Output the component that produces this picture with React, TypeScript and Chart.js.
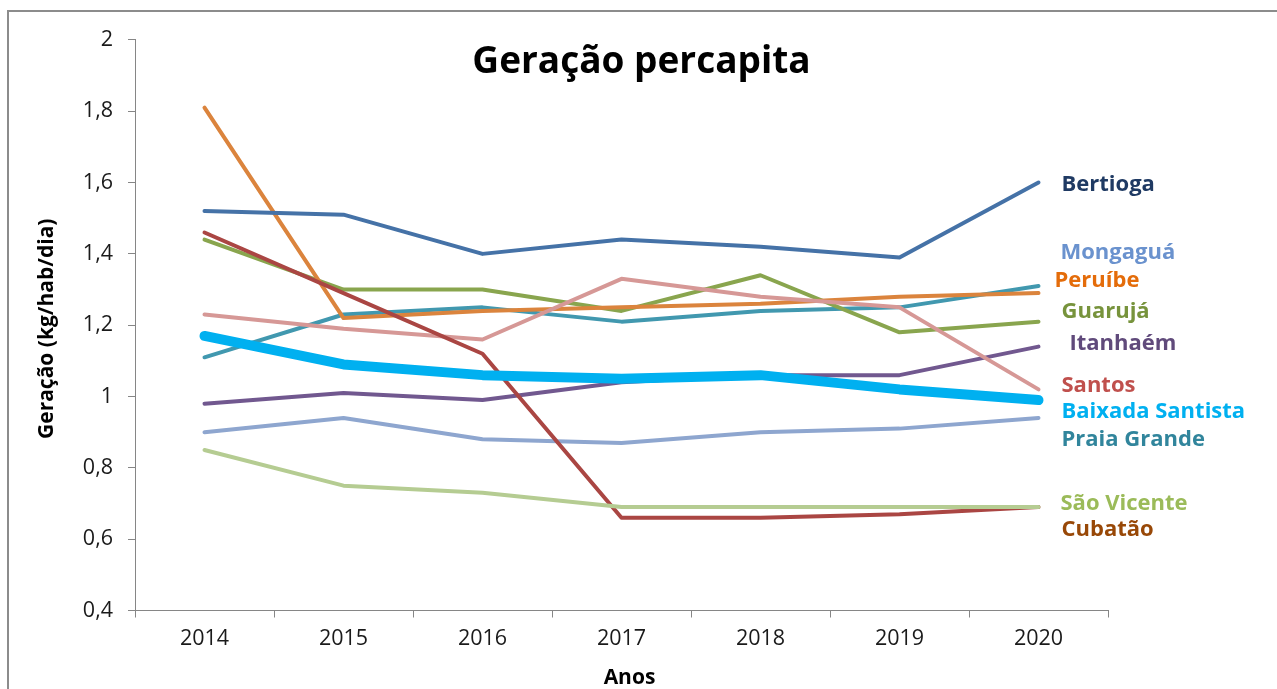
import React, { useEffect, useRef } from 'react';
import { Chart, registerables } from 'chart.js';

Chart.register(...registerables);

// ---- data ----
const years = ['2014', '2015', '2016', '2017', '2018', '2019', '2020'];
const baixadaSantista = [1.17, 1.09, 1.06, 1.05, 1.06, 1.02, 0.99];
const bertioga = [1.52, 1.51, 1.4, 1.44, 1.42, 1.39, 1.6];
const peruibe = [1.81, 1.22, 1.24, 1.25, 1.26, 1.28, 1.29];
const guaruja = [1.44, 1.3, 1.3, 1.24, 1.34, 1.18, 1.21];
const santos = [1.23, 1.19, 1.16, 1.33, 1.28, 1.25, 1.02];
const praiaGrande = [1.11, 1.23, 1.25, 1.21, 1.24, 1.25, 1.31];
const cubatao = [1.46, 1.29, 1.12, 0.66, 0.66, 0.67, 0.69];
const itanhaem = [0.98, 1.01, 0.99, 1.04, 1.06, 1.06, 1.14];
const mongagua = [0.9, 0.94, 0.88, 0.87, 0.9, 0.91, 0.94];
const saoVicente = [0.85, 0.75, 0.73, 0.69, 0.69, 0.69, 0.69];

const yMin = 0.4;
const yMax = 2;
const yStep = 0.2;

const chartTitle = 'Geração percapita';
const xTitle = 'Anos';
const yTitle = 'Geração (kg/hab/dia)';

// ---- right-side annotation labels ----
const labelNames = ['Bertioga', 'Mongaguá', 'Peruíbe', 'Guarujá', 'Itanhaém', 'Santos', 'Baixada Santista', 'Praia Grande', 'São Vicente', 'Cubatão'];
const labelColors = ['#1F3A63', '#6A92CE', '#E46C0A', '#77933C', '#604A7B', '#C0504D', '#00B0F0', '#31859C', '#9BBB59', '#984807'];
const labelAnchorValues = [1.6, 1.407, 1.329, 1.242, 1.152, 1.035, 0.962, 0.883, 0.704, 0.631];
const labelOffsets = [23, 22, 16, 23, 31, 23, 23, 23, 22, 23];

const series = [
  { label: 'Baixada Santista', data: baixadaSantista, color: '#00B0F0', width: 10 },
  { label: 'Bertioga', data: bertioga, color: '#4572A7', width: 4 },
  { label: 'São Vicente', data: saoVicente, color: '#B5CC92', width: 4 },
  { label: 'Cubatão', data: cubatao, color: '#AA4643', width: 4 },
  { label: 'Santos', data: santos, color: '#D69896', width: 4 },
  { label: 'Peruíbe', data: peruibe, color: '#DB843D', width: 4 },
  { label: 'Guarujá', data: guaruja, color: '#89A54E', width: 4 },
  { label: 'Praia Grande', data: praiaGrande, color: '#4198AF', width: 4 },
  { label: 'Itanhaém', data: itanhaem, color: '#71588F', width: 4 },
  { label: 'Mongaguá', data: mongagua, color: '#8EA6CF', width: 4 },
];

const FONT = '"Open Sans", "DejaVu Sans", sans-serif';

const annotationPlugin = {
  id: 'annotations',
  afterDraw(chart: any) {
    const { ctx, chartArea, scales } = chart;
    const xs = scales.x;
    const ys = scales.y;
    ctx.save();
    // title
    ctx.fillStyle = '#000000';
    ctx.textAlign = 'center';
    ctx.textBaseline = 'alphabetic';
    ctx.font = `bold 37px ${FONT}`;
    ctx.fillText(chartTitle, (chartArea.left + chartArea.right) / 2 + 20, chartArea.top + 33);

    // x title
    ctx.font = `bold 21px ${FONT}`;
    ctx.fillText(xTitle, (chartArea.left + chartArea.right) / 2 + 8, chartArea.bottom + 73);

    // y title
    ctx.save();
    ctx.translate(chartArea.left - 82, ys.getPixelForValue(1.19));
    ctx.rotate(-Math.PI / 2);
    ctx.font = `bold 21px ${FONT}`;
    ctx.fillText(yTitle, 0, 0);
    ctx.restore();

    // series labels
    ctx.textAlign = 'left';
    ctx.font = `bold 22px ${FONT}`;
    const lastX = xs.getPixelForValue(years.length - 1);
    labelNames.forEach((name, i) => {
      ctx.fillStyle = labelColors[i];
      const y = ys.getPixelForValue(labelAnchorValues[i]);
      ctx.fillText(name, lastX + labelOffsets[i], y + 8);
    });
    ctx.restore();
  },
};

export default function App() {
  const canvasRef = useRef<HTMLCanvasElement | null>(null);

  useEffect(() => {
    document.documentElement.style.overflow = 'hidden';
    const canvas = canvasRef.current;
    if (!canvas) return;
    const chart = new Chart(canvas, {
      type: 'line',
      data: {
        labels: years,
        datasets: series.map((s) => ({
          label: s.label,
          data: s.data,
          borderColor: s.color,
          backgroundColor: s.color,
          borderWidth: s.width,
          pointRadius: 0,
          pointHoverRadius: 0,
          tension: 0,
          fill: false,
          borderCapStyle: 'round',
          borderJoinStyle: 'round',
        })),
      },
      options: {
        animation: false,
        responsive: false,
        devicePixelRatio: 1,
        layout: { padding: { left: 0, top: 27.5, right: 169, bottom: 31.5 } },
        plugins: {
          legend: { display: false },
          tooltip: { enabled: false },
          title: { display: false },
        },
        scales: {
          x: {
            type: 'category',
            offset: true,
            grid: {
              offset: true,
              drawOnChartArea: false,
              drawTicks: true,
              tickLength: 7,
              color: '#868686',
            },
            border: { display: true, color: '#868686', width: 1 },
            ticks: {
              color: '#1a1a1a',
              font: { family: FONT, size: 21.5 },
              padding: 8,
              maxRotation: 0,
            },
            afterFit: (scale: any) => {
              scale.height = 60;
            },
          },
          y: {
            min: yMin,
            max: yMax,
            grid: {
              drawOnChartArea: false,
              drawTicks: true,
              tickLength: 7,
              color: '#868686',
            },
            border: { display: true, color: '#868686', width: 1 },
            ticks: {
              stepSize: yStep,
              color: '#1a1a1a',
              font: { family: FONT, size: 21.5 },
              padding: 15,
              callback: (v: any) => {
                const n = Math.round(Number(v) * 10) / 10;
                return String(n).replace('.', ',');
              },
            },
            afterFit: (scale: any) => {
              scale.width = 126;
            },
          },
        },
      },
      plugins: [annotationPlugin],
    });
    return () => chart.destroy();
  }, []);

  return (
    <div
      style={{
        position: 'fixed',
        left: 7,
        top: 10,
        width: 1268,
        height: 700,
        border: '2px solid #8C8C8C',
        background: '#ffffff',
        overflow: 'hidden',
      }}
    >
      <canvas ref={canvasRef} width={1268} height={690} style={{ display: 'block' }} />
    </div>
  );
}
